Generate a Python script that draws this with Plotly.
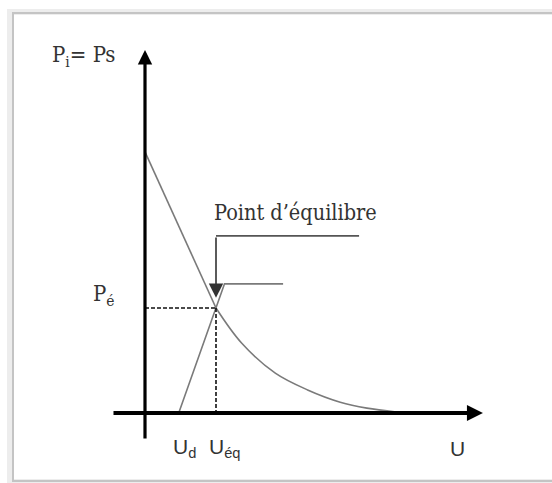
import plotly.graph_objects as go

# Equilibrium diagram: demand curve Pi, supply line Ps, equilibrium at (U_eq, P_eq)
U_d = 0.95          # supply threshold
U_eq = 2.0          # equilibrium quantity
P_eq = 3.0          # equilibrium price
P_max = 7.46        # demand intercept on the price axis

# demand: straight branch down to the equilibrium, then a convex tail
demand_lin_u = [0.0, U_eq]
demand_lin_p = [P_max, P_eq]
demand_tail_u = [U_eq, 2.72, 3.67, 4.58, 5.5, 6.25, 7.08]
demand_tail_p = [P_eq, 2.0, 1.14, 0.66, 0.31, 0.14, 0.03]

# supply: straight line from U_d through the equilibrium, then flat
supply_u = [U_d, U_eq, 2.24, 3.89]
supply_p = [0.0, P_eq, 3.69, 3.69]

# axes extents
U_axis = (-0.93, 9.52)
P_axis = (-0.77, 10.37)

# callout bracket for the equilibrium label
callout_p = 5.06
callout_u_end = 6.03
callout_tip_p = 3.29

W, H = 552, 483
X_RANGE = (-145 / 35.5, (W - 145) / 35.5)
Y_RANGE = ((413 - H) / 35.0, 413 / 35.0)

SERIF = "DejaVu Serif Condensed, Liberation Serif, serif"
SANS = "Liberation Sans Narrow, Liberation Sans, Arial, sans-serif"
CURVE = "#7a7a7a"

fig = go.Figure()

fig.add_trace(go.Scatter(x=demand_lin_u, y=demand_lin_p, mode="lines",
                         line=dict(color=CURVE, width=1.6), hoverinfo="skip"))
fig.add_trace(go.Scatter(x=demand_tail_u, y=demand_tail_p, mode="lines",
                         line=dict(color=CURVE, width=1.6, shape="spline", smoothing=1.0),
                         hoverinfo="skip"))
fig.add_trace(go.Scatter(x=supply_u, y=supply_p, mode="lines",
                         line=dict(color=CURVE, width=1.6), hoverinfo="skip"))

# dashed guides from the equilibrium to both axes
fig.add_trace(go.Scatter(x=[0, U_eq], y=[P_eq, P_eq], mode="lines",
                         line=dict(color="#111", width=1.6, dash="4px,2px"), hoverinfo="skip"))
fig.add_trace(go.Scatter(x=[U_eq, U_eq], y=[P_eq, 0], mode="lines",
                         line=dict(color="#111", width=1.6, dash="4px,2px"), hoverinfo="skip"))

# callout horizontal line
fig.add_trace(go.Scatter(x=[U_eq, callout_u_end], y=[callout_p, callout_p], mode="lines",
                         line=dict(color="#555", width=1.6), hoverinfo="skip"))

annotations = []
# price axis with arrow
annotations.append(dict(x=0, y=P_axis[1], ax=0, ay=P_axis[0], xref="x", yref="y",
                        axref="x", ayref="y", showarrow=True, arrowhead=2,
                        arrowsize=0.9, arrowwidth=3.2, arrowcolor="#000", text=""))
# quantity axis with arrow
annotations.append(dict(x=U_axis[1], y=0, ax=U_axis[0], ay=0, xref="x", yref="y",
                        axref="x", ayref="y", showarrow=True, arrowhead=2,
                        arrowsize=0.8, arrowwidth=4, arrowcolor="#000", text=""))
# callout arrow down to the equilibrium
annotations.append(dict(x=U_eq, y=callout_tip_p, ax=U_eq, ay=callout_p, xref="x", yref="y",
                        axref="x", ayref="y", showarrow=True, arrowhead=2,
                        arrowsize=1.8, arrowwidth=1.6, arrowcolor="#333", text=""))

annotations += [
    dict(x=-2.68, y=10.2, text="P<sub>i</sub>= Ps", showarrow=False, xanchor="left",
         yanchor="middle", font=dict(family=SERIF, size=22, color="#333")),
    dict(x=-0.79, y=P_eq + 0.36, text="P<sub>é</sub>", showarrow=False, xanchor="right",
         yanchor="middle", font=dict(family=SERIF, size=22, color="#333")),
    dict(x=U_eq - 0.12, y=5.74, text="Point d’équilibre", showarrow=False, xanchor="left",
         yanchor="middle", font=dict(family=SERIF, size=21.5, color="#333")),
    dict(x=U_d + 0.15, y=-1.0, text="U<sub>d</sub>", showarrow=False, xanchor="center",
         yanchor="middle", font=dict(family=SANS, size=21, color="#333")),
    dict(x=U_eq + 0.25, y=-1.0, text="U<sub>éq</sub>", showarrow=False, xanchor="center",
         yanchor="middle", font=dict(family=SANS, size=21, color="#333")),
    dict(x=8.8, y=-1.0, text="U", showarrow=False, xanchor="center",
         yanchor="middle", font=dict(family=SANS, size=21, color="#333")),
]

# panel frame
shapes = [
    dict(type="rect", xref="paper", yref="paper", x0=10 / W, x1=1.05, y0=1 - 482 / H,
         y1=1 - 12 / H, line=dict(color="rgba(0,0,0,0.07)", width=6), layer="below"),
    dict(type="rect", xref="paper", yref="paper", x0=13 / W, x1=1.05, y0=1 - 481 / H,
         y1=1 - 13 / H, line=dict(color="#c4c4c4", width=2), layer="below"),
]

fig.update_layout(
    width=W, height=H,
    margin=dict(l=0, r=0, t=0, b=0),
    paper_bgcolor="white", plot_bgcolor="white",
    showlegend=False,
    xaxis=dict(range=list(X_RANGE), visible=False, fixedrange=True),
    yaxis=dict(range=list(Y_RANGE), visible=False, fixedrange=True),
    annotations=annotations,
    shapes=shapes,
)

fig.write_html("out.html")
